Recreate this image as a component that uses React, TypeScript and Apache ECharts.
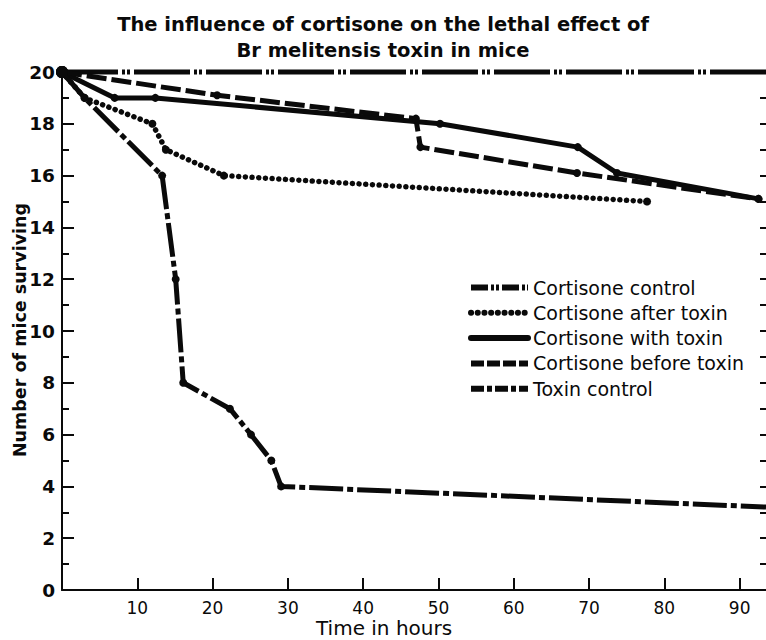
import React, { useEffect, useRef } from "react";
import * as echarts from "echarts";

const titleLines = ["The influence of cortisone on the lethal effect of", "Br melitensis toxin in mice"];
const xAxisName = "Time in hours";
const yAxisName = "Number of mice surviving";
const xMin = 0;
const xMax = 93.5;
const xTickValues = [10, 20, 30, 40, 50, 60, 70, 80, 90];
const yMin = 0;
const yMax = 20;

const seriesNames = [
  "Cortisone control",
  "Cortisone after toxin",
  "Cortisone with toxin",
  "Cortisone before toxin",
  "Toxin control",
];

const cortisoneControl = [
  [0, 20],
  [93.5, 20],
];
const cortisoneAfterToxin = [
  [0, 20],
  [3, 19],
  [12, 18],
  [13.8, 17],
  [21.5, 16],
  [77.7, 15],
];
const cortisoneWithToxin = [
  [0, 20],
  [7, 19],
  [12.4, 19],
  [50.2, 18],
  [68.5, 17.1],
  [73.7, 16.1],
  [92.5, 15.1],
];
const cortisoneBeforeToxin = [
  [0, 20],
  [20.6, 19.1],
  [47, 18.2],
  [47.6, 17.1],
  [68.4, 16.1],
  [92.5, 15.1],
];
const toxinControl = [
  [0, 20],
  [3, 19],
  [13.3, 16],
  [15.1, 12],
  [16.1, 8],
  [22.3, 7],
  [25.1, 6],
  [27.8, 5],
  [29.1, 4],
  [93.5, 3.2],
];

const INK = "#0a0a0a";
const FONT = "DejaVu Sans";

const lineTypes: any[] = [
  [56, 4, 3, 2, 3, 4],
  [0.1, 6.6],
  "solid",
  [20, 5],
  [34, 4, 6, 4],
];
const legendLineTypes: any[] = [
  [17, 3, 3, 2, 3, 3],
  [0.1, 6.6],
  "solid",
  [13, 3],
  [13, 3, 5, 3],
];
const lineCaps = ["butt", "round", "round", "butt", "butt"];
const seriesData = [cortisoneControl, cortisoneAfterToxin, cortisoneWithToxin, cortisoneBeforeToxin, toxinControl];

export default function App() {
  const ref = useRef<HTMLDivElement>(null);
  useEffect(() => {
    document.body.style.margin = "0";
    if (!ref.current) return;
    const chart = echarts.init(ref.current, null, { renderer: "svg" });
    const series = seriesData.map((data, i) => ({
      name: seriesNames[i],
      type: "line",
      data,
      clip: false,
      symbol: i === 0 ? "none" : "circle",
      symbolSize: (val: number[], params: any) =>
        params.dataIndex === 0 ? 12 : val[0] >= 93 ? 0 : 8,
      showSymbol: i !== 0,
      itemStyle: { color: INK },
      lineStyle: { color: INK, width: i === 1 ? 5.5 : 5, type: lineTypes[i], cap: lineCaps[i], join: "round" },
      z: 2 + i,
    }));
    chart.setOption({
      animation: false,
      backgroundColor: "#ffffff",
      title: {
        text: titleLines.join("\n"),
        left: "center",
        top: 6,
        textStyle: { fontFamily: FONT, fontSize: 19.5, fontWeight: "bold", color: INK, lineHeight: 26 },
      },
      legend: {
        orient: "vertical",
        left: 463,
        top: 273,
        itemWidth: 57,
        itemHeight: 16,
        itemGap: 6.3,
        itemStyle: { opacity: 0 },
        textStyle: { fontFamily: FONT, fontSize: 19, color: INK, padding: [0, 0, 0, 0] },
        data: seriesNames.map((n, i) => ({
          name: n,
          lineStyle: { type: legendLineTypes[i], width: 6, cap: lineCaps[i], color: INK },
        })),
        selectedMode: false,
      },
      grid: { left: 62, right: 0, top: 72, bottom: 50, containLabel: false, outerBoundsMode: "none" },
      xAxis: {
        type: "value",
        min: xMin,
        max: xMax,
        interval: 10,
        axisLine: { show: true, lineStyle: { color: INK, width: 2 } },
        axisTick: { show: true, inside: true, length: 12, customValues: xTickValues, lineStyle: { color: INK, width: 2 } },
        axisLabel: { customValues: xTickValues, margin: 9, fontFamily: FONT, fontSize: 17, color: INK },
        splitLine: { show: false },
      },
      yAxis: [
        {
          type: "value",
          min: yMin,
          max: yMax,
          interval: 2,
          axisLine: { show: true, lineStyle: { color: INK, width: 2 } },
          axisTick: { show: true, inside: true, length: 12, lineStyle: { color: INK, width: 2 } },
          minorTick: { show: true, splitNumber: 2, length: 7, lineStyle: { color: INK, width: 2 } },
          axisLabel: { margin: 7, fontFamily: FONT, fontSize: 18.5, fontWeight: "bold", color: INK },
          splitLine: { show: false },
          minorSplitLine: { show: false },
        },
        {
          type: "value",
          position: "right",
          min: yMin,
          max: yMax,
          interval: 1,
          axisLine: { show: false },
          axisTick: { show: true, inside: true, length: 6, lineStyle: { color: INK, width: 2 } },
          axisLabel: { show: false },
          splitLine: { show: false },
        },
      ],
      graphic: [
        {
          type: "text",
          left: 316,
          top: 618,
          style: { text: xAxisName, fontFamily: FONT, fontSize: 20, fill: INK },
        },
        {
          type: "text",
          x: 20,
          y: 330,
          rotation: Math.PI / 2,
          style: {
            text: yAxisName,
            fontFamily: FONT,
            fontSize: 17.5,
            fontWeight: "bold",
            fill: INK,
            align: "center",
            verticalAlign: "middle",
          },
        },
      ],
      series,
    });
    return () => chart.dispose();
  }, []);
  return <div ref={ref} style={{ width: 766, height: 640 }} />;
}
